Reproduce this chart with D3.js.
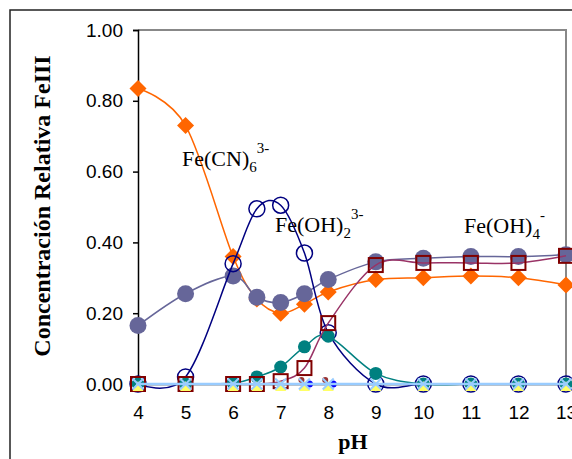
<!DOCTYPE html>
<html>
<head>
<meta charset="utf-8">
<script src="https://cdn.jsdelivr.net/npm/d3@7"></script>
<style>
  body { margin: 0; background: #fff; }
  svg { display: block; }
  .tick text { font-family: "Liberation Sans", Arial, sans-serif; font-size: 19px; fill: #000; }
  .lbl { font-family: "Liberation Serif", "Times New Roman", serif; font-size: 22px; fill: #000; }
</style>
</head>
<body>
<script>
var width = 572, height = 459;

// pH values and relative concentrations
var pH = [4, 5, 6, 6.5, 7, 7.5, 8, 9, 10, 11, 12, 13];
var feCN6 = [0.835, 0.73, 0.36, 0.24, 0.20, 0.225, 0.26, 0.295, 0.30, 0.305, 0.30, 0.28];
var feOH4 = [0.165, 0.255, 0.305, 0.245, 0.23, 0.255, 0.295, 0.345, 0.355, 0.36, 0.36, 0.365];
var feOH2 = [0, 0.02, 0.34, 0.495, 0.505, 0.37, 0.145, 0, 0, 0, 0, 0];
var feTeal = [0, 0, 0.003, 0.02, 0.048, 0.105, 0.135, 0.03, 0, 0, 0, 0];
var feSq = [0, 0, 0, 0, 0.008, 0.045, 0.172, 0.336, 0.342, 0.342, 0.342, 0.362];
var zeros = [0, 0, 0, 0, 0, 0, 0, 0, 0, 0, 0, 0];
var xTicks = [4, 5, 6, 7, 8, 9, 10, 11, 12, 13];
var yTicks = [0, 0.2, 0.4, 0.6, 0.8, 1.0];

var plot = {left: 138, top: 30, right: 566, bottom: 384};

var x = d3.scaleLinear().domain([4, 13]).range([plot.left, plot.right]);
var y = d3.scaleLinear().domain([0, 1]).range([plot.bottom, plot.top]);

var svg = d3.select("body").append("svg")
    .attr("width", width)
    .attr("height", height);

// chart frame
svg.append("rect")
    .attr("x", 10).attr("y", 10)
    .attr("width", 600).attr("height", 500)
    .attr("fill", "#fff")
    .attr("stroke", "#222")
    .attr("stroke-width", 1.5);

// plot border (top and right in gray)
svg.append("path")
    .attr("d", "M" + plot.left + "," + plot.top + "H" + plot.right + "V" + plot.bottom)
    .attr("fill", "none")
    .attr("stroke", "#888")
    .attr("stroke-width", 2);

var yAxis = svg.append("g")
    .attr("transform", "translate(" + plot.left + ",0)")
    .call(d3.axisLeft(y).tickValues(yTicks).tickSize(5).tickPadding(10).tickFormat(d3.format(".2f")));
yAxis.select(".domain").attr("stroke-width", 1.5);
yAxis.selectAll(".tick line").attr("stroke-width", 1.5);

var xAxis = svg.append("g")
    .attr("transform", "translate(0," + plot.bottom + ")")
    .call(d3.axisBottom(x).tickValues(xTicks).tickSize(0).tickPadding(22).tickFormat(d3.format("d")));
xAxis.select(".domain").attr("stroke-width", 1.5);

// axis titles
svg.append("text")
    .attr("class", "lbl")
    .attr("transform", "translate(50,206)rotate(-90)")
    .attr("text-anchor", "middle")
    .style("font-weight", "bold")
    .style("font-size", "24px")
    .text("Concentración Relativa FeIII");

svg.append("text")
    .attr("class", "lbl")
    .attr("x", 353).attr("y", 449)
    .attr("text-anchor", "middle")
    .style("font-weight", "bold")
    .text("pH");

var line = d3.line()
    .curve(d3.curveCardinal.tension(0))
    .x(function(d) { return x(d[0]); })
    .y(function(d) { return y(d[1]); });

function drawLine(vals, color, w) {
  svg.append("path")
      .datum(d3.zip(pH, vals))
      .attr("d", line)
      .attr("fill", "none")
      .attr("stroke", color)
      .attr("stroke-width", w);
}

function pts(vals) {
  return svg.append("g").selectAll("g")
    .data(d3.zip(pH, vals))
    .enter().append("g")
      .attr("transform", function(d) { return "translate(" + x(d[0]) + "," + y(d[1]) + ")"; });
}

// Fe(CN)6 3-
drawLine(feCN6, "#ff6600", 1.5);
pts(feCN6).append("path")
    .attr("d", "M0,-8.5L8.5,0L0,8.5L-8.5,0Z")
    .attr("fill", "#ff6600");

// Fe(OH)4-
drawLine(feOH4, "#666699", 1.5);
pts(feOH4).append("circle")
    .attr("r", 8.5)
    .attr("fill", "#666699");

// Fe(OH)2 3-
drawLine(feOH2, "#000080", 1.5);
pts(feOH2).append("circle")
    .attr("r", 8)
    .attr("fill", "none")
    .attr("stroke", "#000080")
    .attr("stroke-width", 1.5);

// teal series
drawLine(feTeal, "#008080", 1.5);
pts(feTeal).append("circle")
    .attr("r", 6.5)
    .attr("fill", "#008080");

// squares series
drawLine(feSq, "#993366", 1.5);
pts(feSq).append("rect")
    .attr("x", -7).attr("y", -7)
    .attr("width", 14).attr("height", 14)
    .attr("fill", "none")
    .attr("stroke", "#800000")
    .attr("stroke-width", 2);

// remaining species, all at zero
pts(zeros).filter(function(d) { return d[0] === 7.5 || d[0] === 8; })
  .each(function() {
    var g = d3.select(this);
    g.append("circle").attr("cx", 5).attr("cy", 0).attr("r", 3.5).attr("fill", "#0000ff");
    g.append("circle").attr("cx", -3).attr("cy", -4).attr("r", 3).attr("fill", "#993333");
  });

pts(zeros).append("path")
    .attr("d", "M0,-3L5.5,7L-5.5,7Z")
    .attr("fill", "#ffff66");

drawLine(zeros, "#99ccff", 2.5);
pts(zeros).append("path")
    .attr("d", "M-5.5,-5.5L5.5,5.5M5.5,-5.5L-5.5,5.5")
    .attr("stroke", "#99ccff")
    .attr("stroke-width", 2);

// species labels
function label(px, py, base, sub, sup) {
  var t = svg.append("text").attr("class", "lbl").attr("x", px).attr("y", py);
  t.append("tspan").text(base);
  t.append("tspan").attr("dy", 6).style("font-size", "15px").text(sub);
  t.append("tspan").attr("dy", -19).style("font-size", "15px").text(sup);
}

label(182, 166, "Fe(CN)", "6", "3-");
label(275, 232, "Fe(OH)", "2", "3-");
label(464, 233, "Fe(OH)", "4", "-");
</script>
</body>
</html>
